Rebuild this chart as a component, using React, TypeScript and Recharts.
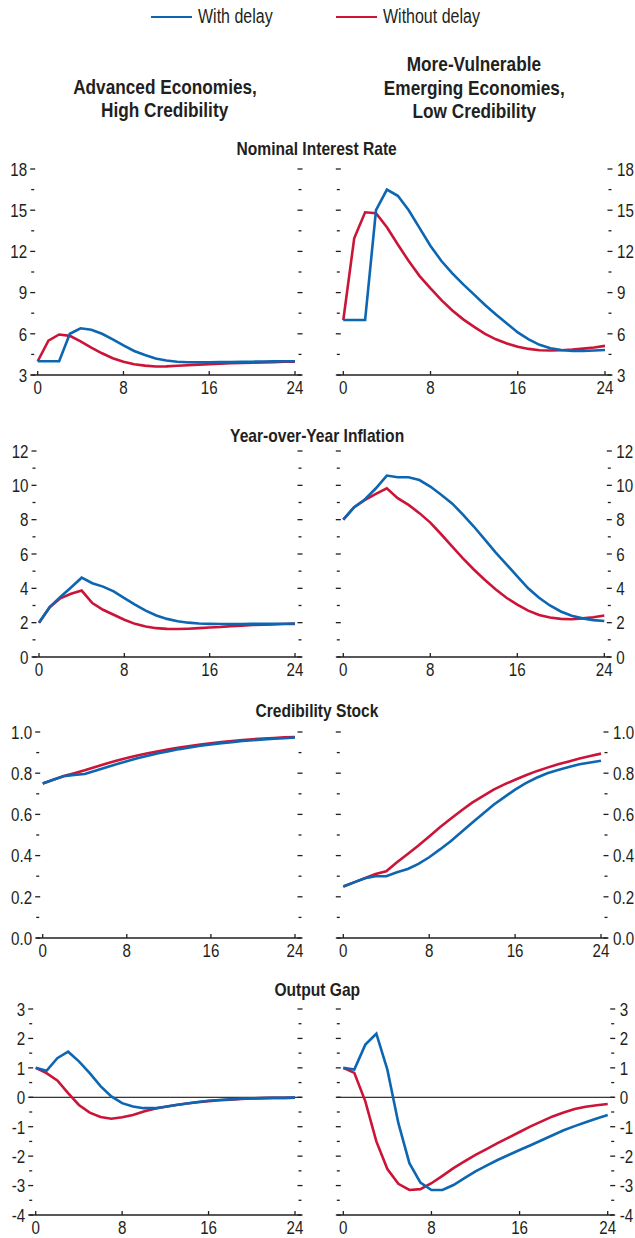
import React from "react";
import { LineChart, Line, XAxis, YAxis, ReferenceLine } from "recharts";

const BLUE = "#0c66b1";
const RED = "#cb1437";
const INK = "#231f20";
const FONT = "'Liberation Sans', Arial, sans-serif";
const SX = 0.82; // horizontal squeeze to mimic the condensed face

const SERIES_NAMES = ["With delay", "Without delay"];
const QUARTERS = [0, 1, 2, 3, 4, 5, 6, 7, 8, 9, 10, 11, 12, 13, 14, 15, 16, 17, 18, 19, 20, 21, 22, 23, 24];
const X_TICKS = [0, 8, 16, 24];

// Nominal interest rate
const rateAeWith = [4.0, 4.0, 4.0, 6.0, 6.4, 6.3, 6.0, 5.6, 5.15, 4.75, 4.45, 4.2, 4.05, 3.97, 3.93, 3.92, 3.93, 3.94, 3.95, 3.96, 3.97, 3.98, 3.99, 4.0, 4.0];
const rateAeWithout = [4.0, 5.5, 5.95, 5.85, 5.45, 5.0, 4.58, 4.22, 3.97, 3.78, 3.68, 3.62, 3.63, 3.67, 3.71, 3.75, 3.79, 3.83, 3.86, 3.88, 3.9, 3.92, 3.94, 3.96, 3.97];
const rateEmWith = [7.0, 7.0, 7.0, 15.0, 16.5, 16.05, 15.0, 13.7, 12.4, 11.3, 10.4, 9.6, 8.85, 8.1, 7.4, 6.75, 6.1, 5.6, 5.2, 4.95, 4.82, 4.76, 4.75, 4.78, 4.82];
const rateEmWithout = [7.0, 12.95, 14.85, 14.78, 13.76, 12.5, 11.3, 10.2, 9.3, 8.45, 7.7, 7.05, 6.5, 6.0, 5.6, 5.3, 5.05, 4.9, 4.8, 4.78, 4.8, 4.85, 4.92, 5.0, 5.12];
const RATE_TICKS = [3, 4.5, 6, 7.5, 9, 10.5, 12, 13.5, 15, 16.5, 18];

// Year-over-year inflation
const inflAeWith = [2.0, 2.9, 3.5, 4.05, 4.62, 4.3, 4.1, 3.82, 3.43, 3.05, 2.7, 2.42, 2.22, 2.08, 2.0, 1.95, 1.93, 1.92, 1.92, 1.92, 1.93, 1.93, 1.94, 1.94, 1.95];
const inflAeWithout = [2.0, 2.9, 3.42, 3.68, 3.87, 3.14, 2.75, 2.46, 2.17, 1.93, 1.78, 1.68, 1.64, 1.63, 1.65, 1.68, 1.72, 1.75, 1.8, 1.83, 1.86, 1.88, 1.9, 1.92, 1.93];
const inflEmWith = [8.0, 8.73, 9.19, 9.83, 10.57, 10.47, 10.47, 10.31, 9.93, 9.45, 8.95, 8.3, 7.6, 6.85, 6.1, 5.4, 4.7, 4.0, 3.45, 3.0, 2.65, 2.4, 2.25, 2.15, 2.1];
const inflEmWithout = [8.0, 8.73, 9.15, 9.5, 9.83, 9.25, 8.86, 8.38, 7.83, 7.15, 6.45, 5.75, 5.1, 4.5, 3.95, 3.45, 3.05, 2.7, 2.45, 2.3, 2.22, 2.2, 2.25, 2.32, 2.42];
const INFL_TICKS = [0, 1, 2, 3, 4, 5, 6, 7, 8, 9, 10, 11, 12];

// Credibility stock
const credAeWith = [0.75, 0.768, 0.785, 0.792, 0.796, 0.812, 0.828, 0.844, 0.858, 0.872, 0.885, 0.897, 0.907, 0.917, 0.925, 0.933, 0.94, 0.946, 0.951, 0.956, 0.96, 0.964, 0.967, 0.97, 0.973];
const credAeWithout = [0.75, 0.768, 0.786, 0.8, 0.814, 0.83, 0.846, 0.861, 0.874, 0.886, 0.897, 0.907, 0.916, 0.924, 0.932, 0.939, 0.945, 0.951, 0.956, 0.961, 0.965, 0.968, 0.971, 0.974, 0.976];
const credEmWith = [0.25, 0.27, 0.29, 0.3, 0.3, 0.319, 0.335, 0.36, 0.392, 0.43, 0.47, 0.514, 0.559, 0.603, 0.647, 0.684, 0.72, 0.752, 0.778, 0.8, 0.815, 0.83, 0.843, 0.852, 0.86];
const credEmWithout = [0.25, 0.27, 0.29, 0.311, 0.324, 0.368, 0.408, 0.449, 0.493, 0.538, 0.579, 0.619, 0.657, 0.689, 0.72, 0.746, 0.768, 0.79, 0.81, 0.827, 0.843, 0.857, 0.871, 0.883, 0.895];
const CRED_TICKS = [0, 0.1, 0.2, 0.3, 0.4, 0.5, 0.6, 0.7, 0.8, 0.9, 1.0];

// Output gap
const gapAeWith = [1.0, 0.9, 1.33, 1.55, 1.22, 0.82, 0.38, 0.03, -0.2, -0.31, -0.37, -0.37, -0.32, -0.26, -0.21, -0.16, -0.12, -0.09, -0.07, -0.05, -0.04, -0.03, -0.02, -0.02, -0.01];
const gapAeWithout = [1.0, 0.82, 0.57, 0.14, -0.26, -0.52, -0.67, -0.73, -0.68, -0.6, -0.48, -0.39, -0.32, -0.26, -0.21, -0.17, -0.13, -0.1, -0.08, -0.06, -0.04, -0.03, -0.02, -0.02, -0.01];
const gapEmWith = [1.0, 0.94, 1.79, 2.16, 0.94, -0.88, -2.24, -2.9, -3.15, -3.15, -2.98, -2.75, -2.52, -2.32, -2.13, -1.96, -1.79, -1.63, -1.46, -1.29, -1.12, -0.98, -0.85, -0.72, -0.6];
const gapEmWithout = [1.0, 0.83, -0.14, -1.5, -2.44, -2.94, -3.15, -3.12, -2.92, -2.67, -2.41, -2.18, -1.96, -1.76, -1.56, -1.37, -1.18, -0.99, -0.82, -0.65, -0.52, -0.4, -0.32, -0.27, -0.23];
const GAP_TICKS = [-4, -3.5, -3, -2.5, -2, -1.5, -1, -0.5, 0, 0.5, 1, 1.5, 2, 2.5, 3];

const toRows = (a: number[], b: number[]) => QUARTERS.map((q, i) => ({ q, withDelay: a[i], withoutDelay: b[i] }));

type Row = {
  title: string;
  titleY: number;
  plotTop: number;
  ticks: number[];
  major: number;
  decimals: number;
  zero?: boolean;
  leftEdges: [number, number];
  rightEdges: [number, number];
  ae: [number[], number[]];
  em: [number[], number[]];
};

const ROWS: Row[] = [
  { title: "Nominal Interest Rate", titleY: 149, plotTop: 169.3, ticks: RATE_TICKS, major: 3, decimals: 0,
    leftEdges: [31.2, 301.5], rightEdges: [336.8, 611.5], ae: [rateAeWith, rateAeWithout], em: [rateEmWith, rateEmWithout] },
  { title: "Year-over-Year Inflation", titleY: 436, plotTop: 451, ticks: INFL_TICKS, major: 2, decimals: 0,
    leftEdges: [32.5, 301.5], rightEdges: [336.8, 610.8], ae: [inflAeWith, inflAeWithout], em: [inflEmWith, inflEmWithout] },
  { title: "Credibility Stock", titleY: 711, plotTop: 731.7, ticks: CRED_TICKS, major: 0.2, decimals: 1,
    leftEdges: [36.2, 301.5], rightEdges: [336.8, 607.5], ae: [credAeWith, credAeWithout], em: [credEmWith, credEmWithout] },
  { title: "Output Gap", titleY: 990, plotTop: 1009.3, ticks: GAP_TICKS, major: 1, decimals: 0, zero: true,
    leftEdges: [29.2, 301.5], rightEdges: [336.8, 614.2], ae: [gapAeWith, gapAeWithout], em: [gapEmWith, gapEmWithout] },
];

const PLOT_H = 206;
const TOP_M = 12;
const X_AXIS_H = 26;
const PAD = 6.5;
const TICK_FS = 18.5;

function isMajor(v: number, step: number) {
  const r = v / step;
  return Math.abs(r - Math.round(r)) < 1e-6;
}

function Squeezed({ x, y, anchor, children }: { x: number; y: number; anchor: "start" | "middle" | "end"; children: React.ReactNode }) {
  return (
    <text
      transform={`translate(${x},${y}) scale(${SX},1)`}
      textAnchor={anchor}
      fontSize={TICK_FS}
      fontFamily={FONT}
      fill={INK}
    >
      {children}
    </text>
  );
}

function YTick(props: any) {
  const { x, y, payload, side, labeled, step, decimals } = props;
  const major = isMajor(payload.value, step);
  const len = major ? 5 : 3;
  const x1 = side === "left" ? x - (major ? 1 : 0) : x - len + (major ? 1 : 0);
  return (
    <g>
      <line x1={x1} x2={x1 + len} y1={y} y2={y} stroke={INK} strokeWidth={1.3} />
      {labeled && major && (
        <Squeezed x={side === "left" ? x - 4 : x + 5.5} y={y + 6.8} anchor={side === "left" ? "end" : "start"}>
          {payload.value.toFixed(decimals)}
        </Squeezed>
      )}
    </g>
  );
}

function XTick(props: any) {
  const { x, y, payload } = props;
  return (
    <g>
      <line x1={x} x2={x} y1={y} y2={y - 4} stroke={INK} strokeWidth={1.3} />
      <Squeezed x={x} y={y + 18.5} anchor="middle">
        {payload.value}
      </Squeezed>
    </g>
  );
}

function Panel({ row, side }: { row: Row; side: "left" | "right" }) {
  const chartX = side === "left" ? 0 : 320;
  const width = side === "left" ? 320 : 315;
  const edges = side === "left" ? row.leftEdges : row.rightEdges;
  const series = side === "left" ? row.ae : row.em;
  const data = toRows(series[0], series[1]);
  const lo = row.ticks[0];
  const hi = row.ticks[row.ticks.length - 1];
  return (
    <div style={{ position: "absolute", left: chartX, top: row.plotTop - TOP_M }}>
      <LineChart width={width} height={TOP_M + PLOT_H + X_AXIS_H} data={data} margin={{ top: TOP_M, right: 0, bottom: 0, left: 0 }}>
        <XAxis
          dataKey="q"
          type="number"
          domain={[0, 24]}
          ticks={X_TICKS}
          interval={0}
          padding={{ left: PAD, right: PAD }}
          height={X_AXIS_H}
          tickSize={0}
          tickMargin={0}
          tickLine={false}
          axisLine={{ stroke: INK, strokeWidth: 1.5 }}
          tick={(p: any) => <XTick {...p} />}
        />
        <YAxis
          yAxisId="l"
          orientation="left"
          type="number"
          domain={[lo, hi]}
          ticks={row.ticks}
          interval={0}
          width={edges[0] - chartX}
          tickSize={0}
          tickMargin={0}
          tickLine={false}
          axisLine={false}
          allowDataOverflow
          tick={(p: any) => <YTick {...p} side="left" labeled={side === "left"} step={row.major} decimals={row.decimals} />}
        />
        <YAxis
          yAxisId="r"
          orientation="right"
          type="number"
          domain={[lo, hi]}
          ticks={row.ticks}
          interval={0}
          width={chartX + width - edges[1]}
          tickSize={0}
          tickMargin={0}
          tickLine={false}
          axisLine={false}
          allowDataOverflow
          tick={(p: any) => <YTick {...p} side="right" labeled={side === "right"} step={row.major} decimals={row.decimals} />}
        />
        {row.zero && <ReferenceLine yAxisId="l" y={0} stroke="#000" strokeWidth={1} />}
        <Line yAxisId="l" type="linear" dataKey="withoutDelay" name={SERIES_NAMES[1]} stroke={RED} strokeWidth={2.6} dot={false} isAnimationActive={false} />
        <Line yAxisId="l" type="linear" dataKey="withDelay" name={SERIES_NAMES[0]} stroke={BLUE} strokeWidth={2.6} dot={false} isAnimationActive={false} />
      </LineChart>
    </div>
  );
}

const textBase: React.CSSProperties = { position: "absolute", fontFamily: FONT, color: INK, whiteSpace: "nowrap" };

function Centered({ x, y, text, size, bold }: { x: number; y: number; text: string; size: number; bold?: boolean }) {
  return (
    <div style={{ ...textBase, left: x - 200, width: 400, top: y - size * 0.6, textAlign: "center", fontSize: size, fontWeight: bold ? 700 : 400, lineHeight: `${size * 1.2}px` }}>
      <span style={{ display: "inline-block", transform: `scaleX(${SX})`, transformOrigin: "center" }}>{text}</span>
    </div>
  );
}

function LegendItem({ x, color, text }: { x: number; color: string; text: string }) {
  return (
    <>
      <div style={{ position: "absolute", left: x, top: 15.5, width: 41, height: 2.6, background: color }} />
      <div style={{ ...textBase, left: x + 47, top: 4.5, fontSize: 19.5, lineHeight: "23px" }}>
        <span style={{ display: "inline-block", transform: `scaleX(${SX})`, transformOrigin: "left" }}>{text}</span>
      </div>
    </>
  );
}

export default function App() {
  return (
    <div style={{ position: "absolute", left: 0, top: 0, width: 635, height: 1238, background: "#fff", overflow: "hidden" }}>
      <LegendItem x={151} color={BLUE} text={SERIES_NAMES[0]} />
      <LegendItem x={336} color={RED} text={SERIES_NAMES[1]} />

      <Centered x={165} y={87} text="Advanced Economies," size={21} bold />
      <Centered x={165} y={110} text="High Credibility" size={21} bold />
      <Centered x={474} y={64} text="More-Vulnerable" size={21} bold />
      <Centered x={474} y={88} text="Emerging Economies," size={21} bold />
      <Centered x={474} y={111} text="Low Credibility" size={21} bold />

      {ROWS.map((row) => (
        <React.Fragment key={row.title}>
          <Centered x={317} y={row.titleY} text={row.title} size={19} bold />
          <Panel row={row} side="left" />
          <Panel row={row} side="right" />
        </React.Fragment>
      ))}
    </div>
  );
}
